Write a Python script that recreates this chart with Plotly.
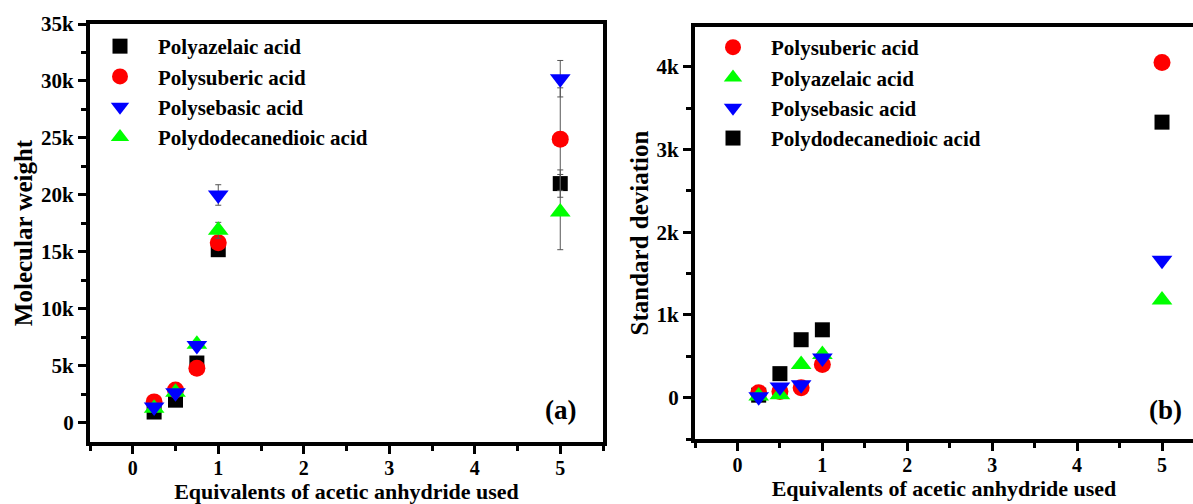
import plotly.graph_objects as go

# ---------------- data ----------------
x_equiv = [0.25, 0.5, 0.75, 1.0, 5.0]

# Panel (a): molecular weight
mw_azelaic = [960, 2000, 5260, 15200, 21000]
mw_suberic = [1850, 2900, 4800, 15800, 24900]
mw_sebasic = [1400, 2650, 6800, 20000, 30200]
mw_dodecane = [1300, 2700, 6900, 16900, 18500]

mw_err_azelaic = [150, 200, 300, 300, 1200]
mw_err_suberic = [150, 200, 300, 300, 4500]
mw_err_sebasic = [200, 250, 300, 900, 1600]
mw_err_dodecane = [200, 300, 300, 700, 3300]

# Panel (b): standard deviation
sd_suberic = [60, 75, 120, 400, 4050]
sd_azelaic = [20, 35, 400, 520, 1180]
sd_sebasic = [10, 130, 155, 480, 1660]
sd_dodecane = [30, 290, 700, 820, 3330]

ytick_a_vals = [0, 5000, 10000, 15000, 20000, 25000, 30000, 35000]
ytick_a_text = ["0", "5k", "10k", "15k", "20k", "25k", "30k", "35k"]
ytick_b_vals = [0, 1000, 2000, 3000, 4000]
ytick_b_text = ["0", "1k", "2k", "3k", "4k"]
xtick_vals = [0, 1, 2, 3, 4, 5]

FONT = "Liberation Serif"
W, H = 1193, 504

fig = go.Figure()

err_style = dict(type="data", color="#555555", thickness=1, width=3, visible=True)

# panel (a) traces (draw order: black, red, green, blue)
fig.add_trace(go.Scatter(x=x_equiv, y=mw_azelaic, mode="markers", name="Polyazelaic acid",
                         marker=dict(symbol="square", size=15, color="black"),
                         error_y=dict(array=mw_err_azelaic, **err_style),
                         xaxis="x", yaxis="y", legend="legend", legendrank=1))
fig.add_trace(go.Scatter(x=x_equiv, y=mw_suberic, mode="markers", name="Polysuberic acid",
                         marker=dict(symbol="circle", size=17, color="red"),
                         error_y=dict(array=mw_err_suberic, **err_style),
                         xaxis="x", yaxis="y", legend="legend", legendrank=2))
fig.add_trace(go.Scatter(x=x_equiv, y=mw_dodecane, mode="markers", name="Polydodecanedioic acid",
                         marker=dict(symbol="triangle-up", size=18, color="#00ff00"),
                         error_y=dict(array=mw_err_dodecane, **err_style),
                         xaxis="x", yaxis="y", legend="legend", legendrank=4))
fig.add_trace(go.Scatter(x=x_equiv, y=mw_sebasic, mode="markers", name="Polysebasic acid",
                         marker=dict(symbol="triangle-down", size=18, color="blue"),
                         error_y=dict(array=mw_err_sebasic, **err_style),
                         xaxis="x", yaxis="y", legend="legend", legendrank=3))

# panel (b) traces
fig.add_trace(go.Scatter(x=x_equiv, y=sd_dodecane, mode="markers", name="Polydodecanedioic acid",
                         marker=dict(symbol="square", size=15, color="black"),
                         xaxis="x2", yaxis="y2", legend="legend2", legendrank=4))
fig.add_trace(go.Scatter(x=x_equiv, y=sd_suberic, mode="markers", name="Polysuberic acid",
                         marker=dict(symbol="circle", size=17, color="red"),
                         xaxis="x2", yaxis="y2", legend="legend2", legendrank=1))
fig.add_trace(go.Scatter(x=x_equiv, y=sd_azelaic, mode="markers", name="Polyazelaic acid",
                         marker=dict(symbol="triangle-up", size=18, color="#00ff00"),
                         xaxis="x2", yaxis="y2", legend="legend2", legendrank=2))
fig.add_trace(go.Scatter(x=x_equiv, y=sd_sebasic, mode="markers", name="Polysebasic acid",
                         marker=dict(symbol="triangle-down", size=18, color="blue"),
                         xaxis="x2", yaxis="y2", legend="legend2", legendrank=3))

tickfont = dict(family=FONT, size=21, color="black", weight="bold")
xtickfont = dict(family=FONT, size=20, color="black", weight="bold")
xtitlefont = dict(family=FONT, size=22, color="black", weight="bold")
ytitlefont = dict(family=FONT, size=25, color="black", weight="bold")
legfont = dict(family=FONT, size=21, color="black", weight="bold")

axis_common = dict(showline=True, linewidth=4, linecolor="black", ticks="outside",
                   ticklen=8, tickwidth=3, tickcolor="black", showgrid=False,
                   zeroline=False, automargin=False)

def px_x(p):
    return p / W

def px_y(p):
    return 1 - p / H

minor_x = dict(ticks="outside", ticklen=5, tickwidth=3, tickcolor="black", dtick=0.5, tick0=0)

fig.update_layout(
    width=W, height=H,
    margin=dict(l=0, r=0, t=0, b=0, autoexpand=False),
    paper_bgcolor="white", plot_bgcolor="white",
    font=dict(family=FONT, color="black"),
    xaxis=dict(domain=[px_x(90), px_x(603)], range=[-0.5, 5.5], tickvals=xtick_vals,
               mirror=True, anchor="y", minor=minor_x, ticklabelstandoff=-3, tickfont=xtickfont,
               title=dict(text="Equivalents of acetic anhydride used", font=xtitlefont, standoff=0),
               **axis_common),
    yaxis=dict(domain=[px_y(442), px_y(24)], range=[-1670, 35000], tickvals=ytick_a_vals,
               ticktext=ytick_a_text, mirror=True, anchor="x", tickfont=tickfont,
               minor=dict(ticks="outside", ticklen=5, tickwidth=3, tickcolor="black", dtick=2500, tick0=0),
               title=dict(text="Molecular weight", font=ytitlefont, standoff=2),
               **axis_common),
    xaxis2=dict(domain=[px_x(695), 1.0], range=[-0.5, 5.365], tickvals=xtick_vals,
                mirror=True, anchor="y2", minor=minor_x, ticklabelstandoff=-3, tickfont=xtickfont,
                title=dict(text="Equivalents of acetic anhydride used", font=xtitlefont, standoff=0),
                **axis_common),
    yaxis2=dict(domain=[px_y(439), px_y(27)], range=[-500, 4480], tickvals=ytick_b_vals,
                ticktext=ytick_b_text, mirror=False, anchor="x2", tickfont=tickfont,
                minor=dict(ticks="outside", ticklen=5, tickwidth=3, tickcolor="black", dtick=500, tick0=0),
                title=dict(text="Standard deviation", font=ytitlefont, standoff=2),
                **axis_common),
    legend=dict(x=px_x(82), y=px_y(26), xanchor="left", yanchor="top",
                bgcolor="rgba(0,0,0,0)", itemwidth=66, tracegroupgap=0, font=legfont),
    legend2=dict(x=px_x(695), y=px_y(27), xanchor="left", yanchor="top",
                 bgcolor="rgba(0,0,0,0)", itemwidth=66, tracegroupgap=0, font=legfont),
    showlegend=True,
    annotations=[
        dict(text="(a)", x=px_x(560), y=px_y(410), xref="paper", yref="paper",
             xanchor="center", yanchor="middle",
             showarrow=False, font=dict(family=FONT, size=27, color="black", weight="bold")),
        dict(text="(b)", x=px_x(1165), y=px_y(410), xref="paper", yref="paper",
             xanchor="center", yanchor="middle",
             showarrow=False, font=dict(family=FONT, size=27, color="black", weight="bold")),
    ],
)

fig.write_html("out.html")
